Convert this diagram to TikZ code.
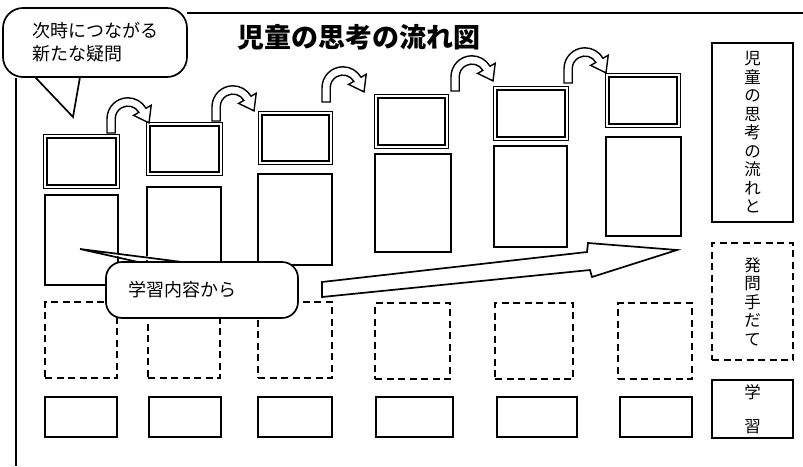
\documentclass[tikz,border=0pt]{standalone}
\usepackage{fontspec}
\newfontfamily\jp{Noto Sans CJK JP}
\tikzset{
  sbox/.style={draw, line width=1.7pt, inner sep=0pt, fill=white},
  dbox/.style={draw, line width=1.3pt, double=white, double distance=2pt, inner sep=0pt},
  dashbox/.style={draw, line width=1.7pt, dash pattern=on 7pt off 4.5pt, inner sep=0pt},
  vlabel/.style={font=\jp\fontsize{16.5}{18.5}\selectfont, align=center},
  bubble/.style={draw, line width=1.7pt, fill=white, rounded corners=16pt, inner sep=0pt},
  frameline/.style={line width=1.7pt},
  turnarrow/.pic={
    \draw[line width=1.4pt, fill=white, line join=miter, yscale=-1.1, xscale=1.1]
      (0,0) -- (0,13) arc[start angle=180, end angle=30, radius=19]
      -- (40.2,25.25) -- (38.2,9.2) -- (24.2,16.0) -- (28.96,18.75)
      arc[start angle=30, end angle=180, radius=11.5] -- (7.5,0) -- cycle;
  }
}
\begin{document}
\begin{tikzpicture}[x=1pt, y=-1pt]
\useasboundingbox (0,0) rectangle (803,466);

% frame
\coordinate (ftl) at (187,13);
\coordinate (ftr) at (803,13);
\coordinate (flt) at (16,78);
\coordinate (flb) at (16,466);
\draw[frameline] (ftl) -- (ftr);
\draw[frameline] (flt) -- (flb);

% title
\node[font=\jp\bfseries\fontsize{27}{30}\selectfont] (title) at (358.5,37) {児童の思考の流れ図};

% double boxes
\node[dbox, minimum width=72.4pt, minimum height=50.4pt] (d1) at (81.5,161.5) {};
\node[dbox, minimum width=72.4pt, minimum height=49.4pt] (d2) at (184.5,149) {};
\node[dbox, minimum width=70.4pt, minimum height=49.4pt] (d3) at (295.5,138) {};
\node[dbox, minimum width=70.4pt, minimum height=50.4pt] (d4) at (411.5,121.5) {};
\node[dbox, minimum width=71.4pt, minimum height=50.4pt] (d5) at (531,113.5) {};
\node[dbox, minimum width=71.4pt, minimum height=50.4pt] (d6) at (643,100.5) {};

% lower boxes
\node[sbox, minimum width=73pt, minimum height=90pt] (u1) at (81.5,240) {};
\node[sbox, minimum width=74pt, minimum height=90pt] (u2) at (184,232) {};
\node[sbox, minimum width=74pt, minimum height=91pt] (u3) at (295,219.5) {};
\node[sbox, minimum width=76pt, minimum height=98pt] (u4) at (413,203) {};
\node[sbox, minimum width=73pt, minimum height=101pt] (u5) at (530.5,196.5) {};
\node[sbox, minimum width=75pt, minimum height=99pt] (u6) at (643.5,186.5) {};

% dashed boxes
\node[dashbox, minimum width=72pt, minimum height=76pt] (h1) at (81,340) {};
\node[dashbox, minimum width=72pt, minimum height=76pt] (h2) at (184,340) {};
\node[dashbox, minimum width=74pt, minimum height=76pt] (h3) at (295,340) {};
\node[dashbox, minimum width=75pt, minimum height=76pt] (h4) at (412.5,341) {};
\node[dashbox, minimum width=78pt, minimum height=76pt] (h5) at (534,341) {};
\node[dashbox, minimum width=74pt, minimum height=76pt] (h6) at (655,341) {};

% bottom boxes
\node[sbox, minimum width=72pt, minimum height=40pt] (b1) at (81,417) {};
\node[sbox, minimum width=72pt, minimum height=40pt] (b2) at (185,417) {};
\node[sbox, minimum width=74pt, minimum height=40pt] (b3) at (295,417) {};
\node[sbox, minimum width=77pt, minimum height=40pt] (b4) at (414.5,417) {};
\node[sbox, minimum width=80pt, minimum height=40pt] (b5) at (537,417) {};
\node[sbox, minimum width=72pt, minimum height=40pt] (b6) at (656,417) {};

% curved arrows
\pic (a1) at (107,133) {turnarrow};
\pic (a2) at (212,121) {turnarrow};
\pic (a3) at (322,102) {turnarrow};
\pic (a4) at (451,91) {turnarrow};
\pic (a5) at (564,83) {turnarrow};

% big arrow
\draw[line width=1.7pt, fill=white, line join=miter]
  (322,282) -- (587,252) -- (588,243) -- (677,250) -- (592,277) -- (590,270) -- (322,297) -- cycle;

% callout: 学習内容から
\node[bubble, minimum width=192pt, minimum height=56pt, inner xsep=22pt, text width=148pt, align=left,
      font=\jp\fontsize{18}{22}\selectfont] (c2) at (202,290) {学習内容から};
\coordinate (c2tip) at (80,249);
\coordinate (c2l) at (138,262);
\coordinate (c2r) at (182,262);
\fill[white] ([yshift=1.8pt]c2l) -- (c2tip) -- ([yshift=1.8pt]c2r) -- cycle;
\draw[line width=1.7pt, line join=miter] (c2l) -- (c2tip) -- (c2r);

% callout: 次時につながる新たな疑問
\node[bubble, rounded corners=20pt, minimum width=184pt, minimum height=69pt, align=left,
      font=\jp\fontsize{18}{23}\selectfont] (c1) at (95,42.5) {次時につながる\\新たな疑問};
\coordinate (c1tip) at (73,117);
\coordinate (c1l) at (35,77);
\coordinate (c1r) at (80,77);
\fill[white] ([yshift=-1.8pt]c1l) -- (c1tip) -- ([yshift=-1.8pt]c1r) -- cycle;
\draw[line width=1.7pt, line join=miter] (c1l) -- (c1tip) -- (c1r);

% right legend
\node[sbox, minimum width=81pt, minimum height=179pt, vlabel] (r1) at (752.5,132.5)
  {児\\童\\の\\思\\考\\の\\流\\れ\\と};
\node[dashbox, minimum width=81pt, minimum height=117pt, vlabel] (r2) at (752.5,301.5)
  {発\\問\\手\\だ\\て};
\node[sbox, minimum width=81pt, minimum height=58pt, vlabel] (r3) at (752.5,409)
  {学\\[15pt]習};
\end{tikzpicture}
\end{document}
